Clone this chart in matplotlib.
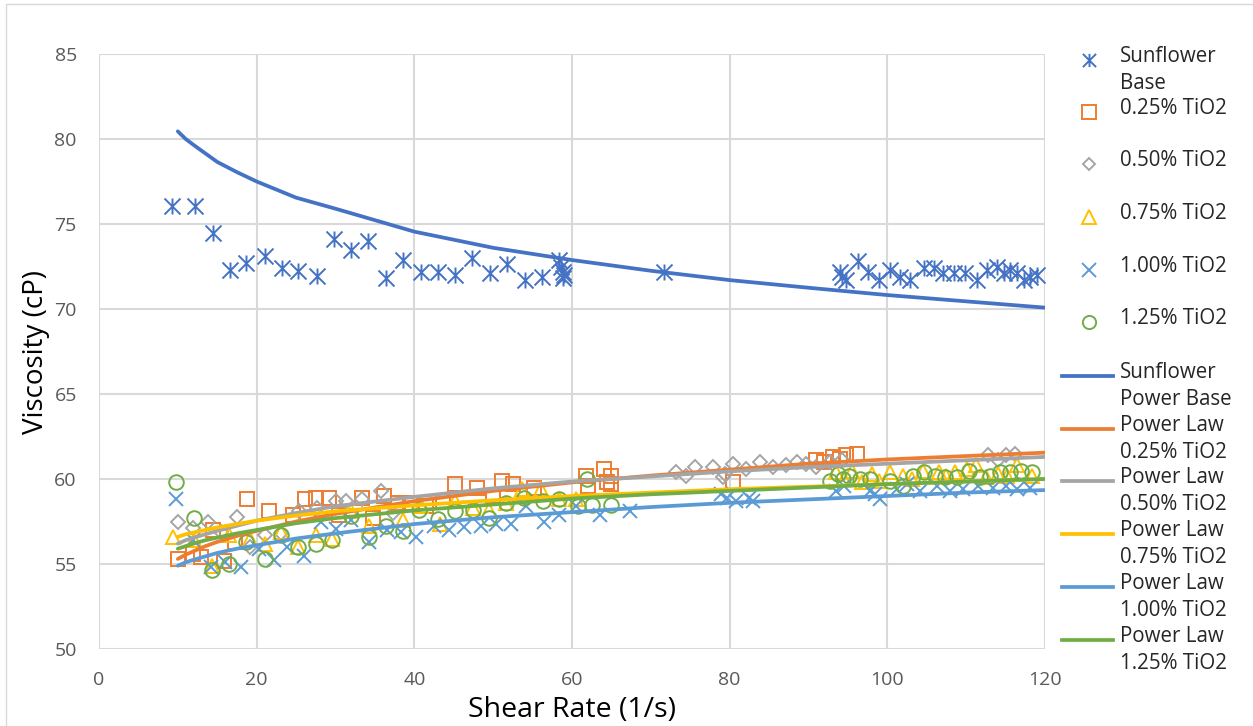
import numpy as np
import matplotlib.pyplot as plt
from matplotlib.lines import Line2D
from matplotlib.patches import Rectangle
from matplotlib.path import Path

plt.rcParams['font.family'] = ['Open Sans', 'DejaVu Sans']

# %% data

base_x = [9.3, 12.2, 14.4, 16.6, 18.7, 21.0, 23.2, 25.3, 27.6, 29.8, 32.0, 34.1, 36.4, 38.6,
          40.8, 43.0, 45.2, 47.3, 49.6, 51.8, 54.0, 56.2, 58.3, 58.6, 58.8, 58.9, 59.0,
          71.7, 94.0, 94.3, 94.8, 96.3, 97.6, 99.0, 100.4, 101.6, 102.9, 104.6, 105.9,
          107.1, 108.4, 109.9, 111.4, 112.6, 113.9, 114.8, 115.6, 116.5, 117.3, 118.1, 119.0]
base_y = [76.05, 76.05, 74.45, 72.3, 72.7, 73.1, 72.4, 72.25, 71.95, 74.1, 73.5, 74.0, 71.8, 72.9,
          72.2, 72.2, 72.0, 73.0, 72.1, 72.65, 71.7, 71.9, 72.9, 72.5, 72.2, 71.8, 72.0,
          72.2, 72.2, 71.9, 71.7, 72.8, 72.2, 71.7, 72.3, 71.9, 71.7, 72.4, 72.4,
          72.1, 72.1, 72.1, 71.7, 72.3, 72.5, 72.1, 72.3, 72.1, 71.7, 71.9, 72.0]

t025_x = [10.0, 11.9, 12.9, 14.4, 15.9, 17.3, 18.8, 21.6, 24.6, 26.1, 27.5, 29.2, 30.5, 33.4,
          34.7, 36.2, 37.9, 39.4, 41.5, 43.6, 45.2, 48.0, 50.0, 51.1, 52.5, 55.2, 61.8, 62.0,
          64.1, 64.4, 65.0, 65.0, 80.4, 91.0, 92.0, 93.1, 94.0, 94.8, 96.1]
t025_y = [55.3, 55.6, 55.4, 57.0, 55.2, 56.3, 58.8, 58.1, 57.9, 58.8, 58.9, 58.9, 57.9, 58.9,
          57.7, 59.0, 58.6, 58.6, 58.4, 58.7, 59.7, 59.5, 59.0, 59.9, 59.7, 59.5, 60.2, 59.6,
          60.6, 59.8, 60.2, 59.7, 59.8, 61.1, 61.0, 61.3, 61.2, 61.4, 61.5]

t050_x = [10.0, 11.9, 13.8, 15.5, 17.5, 19.1, 21.0, 23.1, 25.4, 27.7, 30.1, 31.3, 33.4, 35.8,
          37.3, 73.2, 74.5, 75.6, 77.9, 79.2, 79.4, 80.4, 82.1, 83.8, 85.5, 87.2, 88.5, 89.7,
          91.0, 92.7, 94.2, 112.8, 114.1, 115.1, 116.2]
t050_y = [57.45, 57.1, 57.5, 56.9, 57.75, 56.0, 56.7, 56.8, 58.1, 58.3, 58.7, 58.7, 58.8, 59.3,
          58.0, 60.4, 60.2, 60.7, 60.7, 60.1, 60.3, 60.9, 60.6, 61.0, 60.7, 60.8, 61.0, 60.9,
          60.7, 61.0, 61.1, 61.4, 61.1, 61.4, 61.5]

t075_x = [9.4, 12.1, 14.3, 16.5, 19.1, 21.0, 23.1, 25.2, 27.5, 29.6, 32.0, 34.3, 38.5, 40.8,
          43.2, 45.1, 47.4, 49.5, 51.6, 53.7, 56.1, 58.4, 60.5, 93.5, 94.5, 95.5, 96.8, 98.0,
          99.0, 100.3, 102.0, 103.1, 104.5, 106.5, 107.5, 108.6, 110.1, 111.3, 112.5, 114.0,
          115.2, 116.4, 118.3]
t075_y = [56.6, 56.4, 54.9, 56.7, 56.5, 56.2, 56.9, 56.0, 56.7, 56.5, 58.1, 57.25, 57.6, 58.4,
          57.35, 58.7, 58.3, 58.2, 58.6, 59.4, 59.4, 58.8, 58.8, 60.4, 60.0, 60.5, 59.8, 60.3,
          59.9, 60.4, 60.2, 60.0, 60.5, 60.4, 60.2, 60.4, 60.6, 60.8, 60.1, 60.3,
          60.2, 60.8, 60.2]

t100_x = [9.8, 11.9, 14.2, 16.0, 18.0, 20.3, 22.2, 23.9, 26.0, 28.2, 30.1, 32.0, 34.3, 36.5,
          38.3, 40.2, 42.5, 44.4, 46.3, 48.5, 50.4, 52.3, 54.2, 56.5, 58.4, 60.5, 63.5, 67.3,
          78.9, 79.6, 80.8, 82.5, 83.0, 93.5, 94.5, 97.8, 98.4, 99.1, 101.2, 102.5, 104.1,
          106.3, 108.0, 109.6, 111.5, 113.4, 115.1, 116.4, 118.1]
t100_y = [58.8, 56.4, 54.8, 55.1, 54.85, 55.9, 55.25, 56.0, 55.5, 57.5, 57.05, 57.6, 56.3, 57.0,
          56.9, 56.6, 57.25, 57.0, 57.15, 57.25, 57.35, 57.35, 58.4, 57.45, 57.9, 58.4, 57.9, 58.1,
          59.1, 58.9, 58.7, 58.9, 58.7, 59.3, 59.6, 59.3, 59.1, 58.8, 59.4, 59.7, 59.3,
          59.6, 59.3, 59.4, 59.6, 59.5, 59.6, 59.4, 59.5]

t125_x = [9.8, 12.1, 14.3, 16.5, 18.7, 21.0, 23.1, 25.3, 27.5, 29.6, 32.0, 34.2, 36.4, 38.5,
          40.6, 43.0, 45.1, 47.4, 49.5, 51.6, 53.95, 56.3, 58.4, 60.8, 61.9, 62.5, 65.0, 92.7,
          93.7, 94.4, 95.2, 96.5, 97.8, 100.3, 102.0, 103.3, 104.6, 106.0, 107.3, 108.8, 110.3,
          111.8, 113.0, 114.3, 115.6, 117.0, 118.3]
t125_y = [59.8, 57.7, 54.65, 55.0, 56.3, 55.3, 56.7, 56.0, 56.2, 56.4, 57.85, 56.6, 57.25, 56.96,
          58.2, 57.65, 58.1, 58.2, 57.7, 58.6, 58.9, 58.7, 58.8, 58.4, 60.0, 58.5, 58.5, 59.9,
          60.3, 60.0, 60.2, 60.0, 60.0, 59.9, 59.6, 60.2, 60.4, 60.2, 60.1, 60.1, 60.5,
          60.1, 60.2, 60.4, 60.4, 60.5, 60.4]

# power law trendlines
fit_x = [10, 11, 12, 13.5, 15, 17.5, 20, 25, 30, 40, 50, 60, 70, 80, 90, 100, 110, 120]
fit_base = [80.45, 80.0, 79.65, 79.15, 78.65, 78.05, 77.5, 76.55, 75.9, 74.55, 73.6, 72.88,
            72.25, 71.7, 71.25, 70.82, 70.45, 70.08]
fit_025 = [55.3, 55.55, 55.75, 56.05, 56.3, 56.65, 56.95, 57.5, 57.95, 58.7, 59.3, 59.8,
           60.2, 60.55, 60.9, 61.15, 61.35, 61.55]
fit_050 = [56.2, 56.4, 56.55, 56.75, 56.95, 57.25, 57.55, 58.0, 58.4, 58.95, 59.45, 59.85,
           60.15, 60.45, 60.7, 60.9, 61.1, 61.3]
fit_075 = [56.6, 56.75, 56.85, 57.0, 57.15, 57.35, 57.55, 57.85, 58.1, 58.45, 58.75, 59.0,
           59.2, 59.4, 59.55, 59.7, 59.85, 60.0]
fit_100 = [54.9, 55.1, 55.25, 55.45, 55.65, 55.9, 56.1, 56.5, 56.8, 57.35, 57.75, 58.05,
           58.35, 58.6, 58.8, 59.0, 59.2, 59.35]
fit_125 = [55.9, 56.05, 56.2, 56.4, 56.55, 56.8, 57.0, 57.4, 57.7, 58.15, 58.5, 58.85,
           59.1, 59.3, 59.5, 59.7, 59.85, 60.0]

marker_labels = ['Sunflower\nBase', '0.25% TiO2', '0.50% TiO2', '0.75% TiO2', '1.00% TiO2', '1.25% TiO2']
line_labels = ['Sunflower\nPower Base', 'Power Law\n0.25% TiO2', 'Power Law\n0.50% TiO2',
               'Power Law\n0.75% TiO2', 'Power Law\n1.00% TiO2', 'Power Law\n1.25% TiO2']

colors = ['#4472C4', '#ED7D31', '#A5A5A5', '#FFC000', '#5B9BD5', '#70AD47']

# %% plot

# Excel "star" marker: a vertical bar plus an x
star = Path([(0, -1), (0, 1), (-1, -1), (1, 1), (-1, 1), (1, -1)],
            [Path.MOVETO, Path.LINETO] * 3)
markers = [star, 's', 'D', '^', 'x', 'o']
msizes = [11.5, 9.5, 7, 9.5, 9.5, 10.5]

W, H = 1253, 726
fig = plt.figure(figsize=(W / 100, H / 100), dpi=100)
ax = fig.add_axes([99 / W, 1 - 649 / H, 946 / W, 595 / H])

series = [(base_x, base_y), (t025_x, t025_y), (t050_x, t050_y),
          (t075_x, t075_y), (t100_x, t100_y), (t125_x, t125_y)]
fits = [fit_base, fit_025, fit_050, fit_075, fit_100, fit_125]

for (sx, sy), c, m, ms in zip(series, colors, markers, msizes):
    ax.plot(sx, sy, linestyle='none', marker=m, markersize=ms, markerfacecolor='none',
            markeredgecolor=c, markeredgewidth=1.4, zorder=3)

for fy, c in zip(fits, colors):
    ax.plot(fit_x, fy, color=c, linewidth=2.7, solid_capstyle='round', zorder=4)

ax.set_xlim(0, 120)
ax.set_ylim(50, 85)
ax.set_xticks(range(0, 121, 20))
ax.set_yticks(range(50, 86, 5))
ax.grid(True, color='#d9d9d9', linewidth=1.5)
ax.set_axisbelow(True)
for s in ax.spines.values():
    s.set_visible(False)
ax.tick_params(length=0, labelsize=14, labelcolor='#595959', pad=16)
ax.set_xlabel('Shear Rate (1/s)', fontsize=20.5, labelpad=5)
ax.set_ylabel('Viscosity (cP)', fontsize=20, labelpad=3)

# legend drawn by hand, Excel style (handle level with the first line of text)
def fx(px):
    return px / W

def fy(py):
    return 1 - py / H

mark_rows = [60, 112, 164, 217, 270, 322]
for lab, c, m, row in zip(marker_labels, colors, markers, mark_rows):
    fig.add_artist(Line2D([fx(1089)], [fy(row)], transform=fig.transFigure, linestyle='none',
                          marker=m, markersize=9.5 if m != 'D' else 6.5, markerfacecolor='none',
                          markeredgecolor=c, markeredgewidth=1.4))
    fig.text(fx(1120), fy(row - 14), lab, fontsize=14.8, va='top', ha='left',
             color='#262626', linespacing=1.4)

line_rows = [376, 429, 481, 534, 587, 640]
for lab, c, row in zip(line_labels, colors, line_rows):
    fig.add_artist(Line2D([fx(1062), fx(1113)], [fy(row), fy(row)], transform=fig.transFigure,
                          color=c, linewidth=2.7))
    fig.text(fx(1120), fy(row - 14), lab, fontsize=14.8, va='top', ha='left',
             color='#262626', linespacing=1.4)

fig.add_artist(Rectangle((fx(6), fy(730)), fx(1260) - fx(6), fy(4) - fy(730),
                         transform=fig.transFigure, fill=False, edgecolor='#d9d9d9', linewidth=1))

fig.savefig('out.png', dpi=100)
